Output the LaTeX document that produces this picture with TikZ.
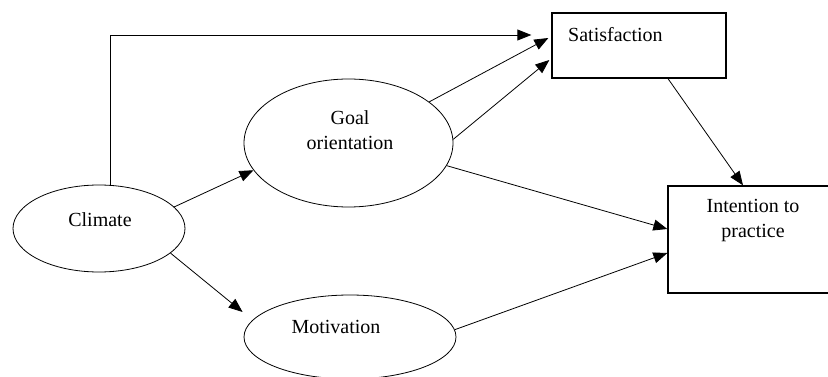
\documentclass[tikz,border=0pt]{standalone}
\usepackage{fontspec}
\setmainfont{Liberation Serif}
\usetikzlibrary{shapes.geometric,arrows.meta}
\begin{document}
\begin{tikzpicture}[x=1pt,y=-1pt,
  oval/.style={draw=black,line width=0.8pt,ellipse,inner sep=0pt},
  boxnode/.style={draw=black,line width=1.3pt,rectangle,inner sep=0pt},
  lbl/.style={font=\fontsize{20}{25}\selectfont,align=center,inner sep=0pt},
  arr/.style={line width=0.8pt,-{Triangle[length=14pt,width=11pt]}}]
\useasboundingbox (0,0) rectangle (828,377);
\clip (0,0) rectangle (828,377);
\node[oval,minimum width=172pt,minimum height=87pt] (clim) at (99,228.5) {};
\node[lbl] (climT) at (100,220) {Climate};
\node[oval,minimum width=209pt,minimum height=128pt] (goal) at (348.5,143) {};
\node[lbl] (goalT) at (350,130) {Goal\\orientation};
\node[oval,minimum width=212pt,minimum height=84pt] (mot) at (350,337) {};
\node[lbl] (motT) at (336,327) {Motivation};
\node[boxnode,minimum width=174pt,minimum height=65pt] (sat) at (639,45.5) {};
\node[lbl,anchor=west] (satT) at (568,35) {Satisfaction};
\node[boxnode,minimum width=164pt,minimum height=107pt] (int) at (750,239.5) {};
\node[lbl] (intT) at (753,221) {Intention to\\practice};
\draw[arr] (clim.75) |- ([xshift=-20pt,yshift=10.5pt]sat.west);
\draw[arr] (clim.16) -- (goal.196);
\draw[arr] (clim.-19) -- ([xshift=-1pt,yshift=25pt]mot.west);
\draw[arr] (goal.27) -- ([xshift=-3pt,yshift=7.5pt]sat.west);
\draw[arr] (goal.2) -- ([xshift=-2pt,yshift=-14.5pt]sat.west);
\draw[arr] (goal.-13) -- ([yshift=10.5pt]int.west);
\draw[arr] (mot.4) -- ([yshift=-13.5pt]int.west);
\draw[arr] ([xshift=29pt]sat.south) -- ([xshift=-7pt]int.north);
\end{tikzpicture}
\end{document}
